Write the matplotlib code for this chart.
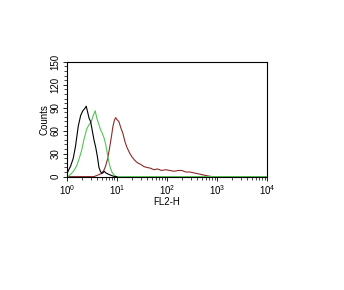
import matplotlib
matplotlib.use("Agg")
import matplotlib.pyplot as plt
from matplotlib.ticker import LogLocator, MultipleLocator, NullFormatter, FixedLocator

plt.rcParams['font.family'] = ['Liberation Sans', 'DejaVu Sans']

black_x = [1.0, 1.0, 1.03, 1.1, 1.2, 1.35, 1.5, 1.7, 1.9, 2.1, 2.3, 2.45, 2.6, 2.8, 3.0, 3.2, 3.5, 3.8, 4.1, 4.4, 4.7, 5.0, 5.3, 5.6, 6.0, 6.4, 6.9, 7.5, 8.2, 9.0, 10.0]
black_y = [0, 26, 5, 9, 14, 24, 40, 66, 80, 86, 89, 92, 85, 76, 72, 62, 48, 38, 26, 12, 7, 4, 5, 7, 5, 4, 3, 2, 1, 0, 0]

green_x = [1.05, 1.2, 1.4, 1.6, 1.8, 2.0, 2.2, 2.5, 2.8, 3.1, 3.4, 3.7, 4.0, 4.3, 4.7, 5.1, 5.6, 6.0, 6.4, 6.9, 7.4, 8.0, 8.6, 9.3, 10.0, 10000]
green_y = [0, 3, 8, 15, 25, 35, 48, 62, 68, 72, 80, 86, 76, 70, 62, 57, 50, 42, 32, 20, 12, 6, 3, 1, 0, 0]

red_x = [1.0, 3.5, 4.2, 4.9, 5.5, 6.0, 6.6, 7.2, 7.8, 8.4, 9.0, 9.5, 10.2, 11.0, 12.0, 13.3, 14.5, 16.0, 18.0, 20.0, 23.0, 26.0, 30.0, 35.0, 40.0, 47.0, 55.0, 65.0, 78.0, 95.0, 115.0, 140.0, 170.0, 200.0, 240.0, 290.0, 340.0, 400.0, 470.0, 550.0, 650.0, 800.0, 10000.0]
red_y = [0, 0, 2, 4, 8, 14, 24, 38, 52, 66, 74, 77, 74, 72, 64, 56, 46, 38, 31, 26, 21, 18, 16, 13, 12, 11, 9, 10, 8, 9, 8, 7, 8, 8, 6, 6, 5, 4, 3, 2, 1, 0, 0]

fig = plt.figure(figsize=(3.44, 2.90), dpi=100)
ax = fig.add_axes([0.194, 0.391, 0.582, 0.396])

ax.plot(red_x, red_y, color='#8b2a2a', lw=0.8)
ax.plot(green_x, green_y, color='#55c455', lw=0.8)
ax.plot(black_x, black_y, color='black', lw=0.8)

ax.set_xscale('log')
ax.set_xlim(1, 1e4)
ax.set_ylim(0, 150)
ax.yaxis.set_major_locator(MultipleLocator(30))
ax.yaxis.set_minor_locator(MultipleLocator(6))
ax.xaxis.set_major_locator(LogLocator(base=10, numticks=10))
ax.xaxis.set_minor_locator(LogLocator(base=10, subs=range(2, 10), numticks=10))
ax.xaxis.set_minor_formatter(NullFormatter())

for lab in ax.get_yticklabels():
    lab.set_rotation(90)
    lab.set_va('center')
ax.tick_params(axis='both', which='major', labelsize=7, length=3, width=0.6, pad=1.5, direction='out')
ax.tick_params(axis='both', which='minor', length=2, width=0.5, direction='out')
ax.tick_params(axis='y', labelrotation=90)
for lab in ax.get_yticklabels():
    lab.set_va('center')

ax.set_xlabel('FL2-H', fontsize=7, labelpad=0)
ax.set_ylabel('Counts', fontsize=7, labelpad=1)
for s in ax.spines.values():
    s.set_linewidth(0.8)

fig.savefig('out.png', dpi=100)
